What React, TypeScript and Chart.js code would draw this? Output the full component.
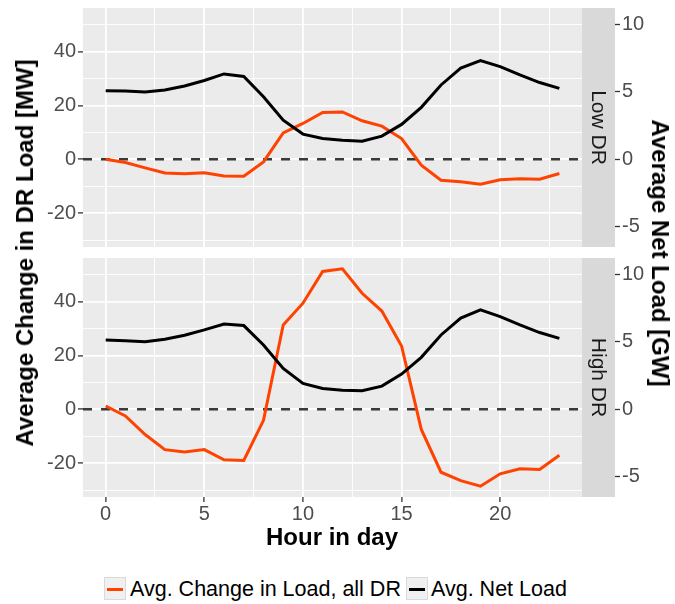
import React, { useEffect, useRef } from 'react';
import { Chart, registerables } from 'chart.js';

Chart.register(...registerables);

// ---------- data ----------
const hours = [0, 1, 2, 3, 4, 5, 6, 7, 8, 9, 10, 11, 12, 13, 14, 15, 16, 17, 18, 19, 20, 21, 22, 23];

// Avg. change in DR load [MW]
const lowDRChange = [0, -1.2, -3.2, -5.1, -5.4, -5.0, -6.2, -6.3, -1.0, 9.8, 13.3, 17.4, 17.6, 14.3, 12.3, 7.7, -2.2, -7.8, -8.4, -9.3, -7.6, -7.2, -7.4, -5.3];
const highDRChange = [1.2, -2.5, -9.4, -15.0, -15.9, -15.0, -18.8, -19.0, -4.1, 31.3, 39.4, 51.2, 52.2, 43.1, 36.5, 23.5, -7.5, -23.4, -26.5, -28.6, -24.0, -22.1, -22.4, -17.1];

// Avg. net load [GW]
const lowDRNet = [5.1, 5.07, 5.0, 5.15, 5.45, 5.85, 6.34, 6.15, 4.65, 2.9, 1.87, 1.54, 1.42, 1.34, 1.72, 2.59, 3.86, 5.52, 6.77, 7.34, 6.89, 6.27, 5.7, 5.27];
const highDRNet = [5.15, 5.1, 5.02, 5.2, 5.5, 5.9, 6.34, 6.22, 4.78, 3.03, 1.92, 1.54, 1.42, 1.37, 1.72, 2.61, 3.86, 5.52, 6.77, 7.39, 6.89, 6.27, 5.7, 5.27];

const panelLabels = ['Low DR', 'High DR'];
const seriesLabels = ['Avg. Change in Load, all DR', 'Avg. Net Load'];

// ticks
const xGridTicks = [0, 2.5, 5, 7.5, 10, 12.5, 15, 17.5, 20, 22.5];
const xLabelTicks = [0, 5, 10, 15, 20];
const yLeftGridTicks = [-30, -20, -10, 0, 10, 20, 30, 40, 50];
const yLeftLabelTicks = [-20, 0, 20, 40];
const yRightTicks = [-5, 0, 5, 10];
const refLine = [0];

// axis ranges
const xMin = -1.15;
const xPanelMax = 24.15;
const xStripMax = 25.82; // extra room on the x scale for the facet strip
const yLeftMin = -32.6;
const yLeftMax = 56.2;
const yRightMin = yLeftMin / 5;
const yRightMax = yLeftMax / 5;

const ORANGE = '#FF4200';
const FONT = '"Liberation Sans", Arial, Helvetica, sans-serif';

const decorPlugin = {
  id: 'decor',
  beforeDraw(chart: any) {
    const { ctx, chartArea } = chart;
    const xs = chart.scales.x;
    const pr = xs.getPixelForValue(xPanelMax);
    ctx.save();
    ctx.fillStyle = '#EBEBEB';
    ctx.fillRect(chartArea.left, chartArea.top, pr - chartArea.left, chartArea.bottom - chartArea.top);
    ctx.restore();
  },
  beforeDatasetsDraw(chart: any) {
    const { ctx, chartArea } = chart;
    const xs = chart.scales.x;
    const ys = chart.scales.y;
    const pr = xs.getPixelForValue(xPanelMax);
    const label = chart.options.plugins.decor.label;
    ctx.save();
    // strip
    ctx.fillStyle = '#D9D9D9';
    ctx.fillRect(pr, chartArea.top, chartArea.right - pr, chartArea.bottom - chartArea.top);
    ctx.translate((pr + chartArea.right) / 2 - 1, (chartArea.top + chartArea.bottom) / 2);
    ctx.rotate(Math.PI / 2);
    ctx.fillStyle = '#1A1A1A';
    ctx.font = `21px ${FONT}`;
    ctx.textAlign = 'center';
    ctx.textBaseline = 'middle';
    ctx.fillText(label, 0, 0);
    ctx.restore();
    // reference line(s)
    ctx.save();
    ctx.beginPath();
    ctx.rect(chartArea.left, chartArea.top, pr - chartArea.left, chartArea.bottom - chartArea.top);
    ctx.clip();
    ctx.strokeStyle = '#3A3A3A';
    ctx.lineWidth = 2.5;
    ctx.setLineDash([9, 9]);
    refLine.forEach((v) => {
      const y = ys.getPixelForValue(v);
      ctx.beginPath();
      ctx.moveTo(chartArea.left, y);
      ctx.lineTo(pr, y);
      ctx.stroke();
    });
    ctx.restore();
  },
};

function makeConfig(change: number[], net: number[], label: string, showX: boolean, padTop: number, padBottom: number): any {
  return {
    type: 'line',
    data: {
      datasets: [
        {
          label: seriesLabels[0],
          data: hours.map((h, i) => ({ x: h, y: change[i] })),
          borderColor: ORANGE,
          borderWidth: 3,
          pointRadius: 0,
          tension: 0,
          yAxisID: 'y',
          order: 2,
        },
        {
          label: seriesLabels[1],
          data: hours.map((h, i) => ({ x: h, y: net[i] })),
          borderColor: '#000000',
          borderWidth: 3,
          pointRadius: 0,
          tension: 0,
          yAxisID: 'y2',
          order: 1,
        },
      ],
    },
    options: {
      animation: false,
      responsive: false,
      devicePixelRatio: 1,
      layout: { padding: { top: padTop, bottom: padBottom, left: 0, right: 0 } },
      plugins: {
        legend: { display: false },
        tooltip: { enabled: false },
        decor: { label },
      },
      scales: {
        x: {
          type: 'linear',
          min: xMin,
          max: xStripMax,
          afterBuildTicks: (s: any) => {
            s.ticks = xGridTicks.map((v) => ({ value: v }));
          },
          afterFit: (s: any) => {
            s.height = showX ? 55 : 0;
            s.paddingLeft = 0;
            s.paddingRight = 0;
          },
          ticks: {
            display: showX,
            autoSkip: false,
            maxRotation: 0,
            padding: 0,
            color: '#4D4D4D',
            font: { family: FONT, size: 20 },
            callback: (v: number) => (xLabelTicks.includes(v) ? String(v) : ''),
          },
          grid: {
            color: '#FFFFFF',
            lineWidth: (c: any) => (c.tick && xLabelTicks.includes(c.tick.value) ? 1.8 : 0.9),
            drawTicks: showX,
            tickLength: 5,
            tickWidth: 1.3,
            tickColor: (c: any) => (c.tick && xLabelTicks.includes(c.tick.value) ? '#333333' : 'rgba(0,0,0,0)'),
          },
          border: { display: false },
        },
        y: {
          type: 'linear',
          position: 'left',
          min: yLeftMin,
          max: yLeftMax,
          afterBuildTicks: (s: any) => {
            s.ticks = yLeftGridTicks.map((v) => ({ value: v }));
          },
          afterFit: (s: any) => {
            s.width = 83;
            s.paddingTop = 0;
            s.paddingBottom = 0;
          },
          ticks: {
            padding: 2,
            color: '#4D4D4D',
            font: { family: FONT, size: 20 },
            callback: (v: number) => (yLeftLabelTicks.includes(v) ? String(v) : ''),
          },
          grid: {
            color: '#FFFFFF',
            lineWidth: (c: any) => (c.tick && yLeftLabelTicks.includes(c.tick.value) ? 1.8 : 0.9),
            tickLength: 5,
            tickWidth: 1.3,
            tickColor: (c: any) => (c.tick && yLeftLabelTicks.includes(c.tick.value) ? '#333333' : 'rgba(0,0,0,0)'),
          },
          border: { display: false },
        },
        y2: {
          type: 'linear',
          position: 'right',
          min: yRightMin,
          max: yRightMax,
          afterBuildTicks: (s: any) => {
            s.ticks = yRightTicks.map((v) => ({ value: v }));
          },
          afterFit: (s: any) => {
            s.width = 60;
            s.paddingTop = 0;
            s.paddingBottom = 0;
          },
          ticks: {
            padding: 2,
            color: '#4D4D4D',
            font: { family: FONT, size: 20 },
            callback: (v: number) => String(v),
          },
          grid: {
            drawOnChartArea: false,
            tickLength: 5,
            tickWidth: 1.3,
            tickColor: '#333333',
          },
          border: { display: false },
        },
      },
    },
    plugins: [decorPlugin],
  };
}

function Panel({ change, net, label, showX, top, height, padTop, padBottom }: any) {
  const ref = useRef<HTMLCanvasElement>(null);
  useEffect(() => {
    if (!ref.current) return;
    const chart = new Chart(ref.current, makeConfig(change, net, label, showX, padTop, padBottom));
    return () => chart.destroy();
  }, []);
  return (
    <canvas
      ref={ref}
      width={675}
      height={height}
      style={{ position: 'absolute', left: 0, top, width: 675, height }}
    />
  );
}

function LegendKey({ left, color }: { left: number; color: string }) {
  return (
    <div
      style={{
        position: 'absolute',
        left,
        top: 577,
        width: 22,
        height: 23,
        boxSizing: 'border-box',
        background: '#F0F0F0',
        border: '1px solid #DADADA',
      }}
    >
      <div style={{ position: 'absolute', left: 2, right: 2, top: 10, height: 3, background: color }} />
    </div>
  );
}

export default function App() {
  return (
    <div
      style={{
        position: 'fixed',
        left: 0,
        top: 0,
        width: 675,
        height: 604,
        background: '#FFFFFF',
        overflow: 'hidden',
        fontFamily: FONT,
      }}
    >
      <Panel change={lowDRChange} net={lowDRNet} label={panelLabels[0]} showX={false} top={0} height={252} padTop={8} padBottom={5} />
      <Panel change={highDRChange} net={highDRNet} label={panelLabels[1]} showX={true} top={252} height={300} padTop={6} padBottom={0} />

      <div
        style={{
          position: 'absolute',
          left: 25,
          top: 253,
          transform: 'translate(-50%, -50%) rotate(-90deg)',
          whiteSpace: 'nowrap',
          fontWeight: 'bold',
          fontSize: 24,
          lineHeight: '28px',
          color: '#000',
        }}
      >
        Average Change in DR Load [MW]
      </div>
      <div
        style={{
          position: 'absolute',
          left: 660,
          top: 253,
          transform: 'translate(-50%, -50%) rotate(90deg)',
          whiteSpace: 'nowrap',
          fontWeight: 'bold',
          fontSize: 24,
          lineHeight: '28px',
          color: '#000',
        }}
      >
        Average Net Load [GW]
      </div>
      <div
        style={{
          position: 'absolute',
          left: 332,
          top: 525,
          transform: 'translateX(-50%)',
          whiteSpace: 'nowrap',
          fontWeight: 'bold',
          fontSize: 24,
          lineHeight: '24px',
          color: '#000',
        }}
      >
        Hour in day
      </div>

      <LegendKey left={104} color={ORANGE} />
      <div style={{ position: 'absolute', left: 130, top: 578, fontSize: 21.5, lineHeight: '22px', whiteSpace: 'nowrap', color: '#000' }}>
        {seriesLabels[0]}
      </div>
      <LegendKey left={406} color="#000000" />
      <div style={{ position: 'absolute', left: 431, top: 578, fontSize: 21.5, lineHeight: '22px', whiteSpace: 'nowrap', color: '#000' }}>
        {seriesLabels[1]}
      </div>
    </div>
  );
}
